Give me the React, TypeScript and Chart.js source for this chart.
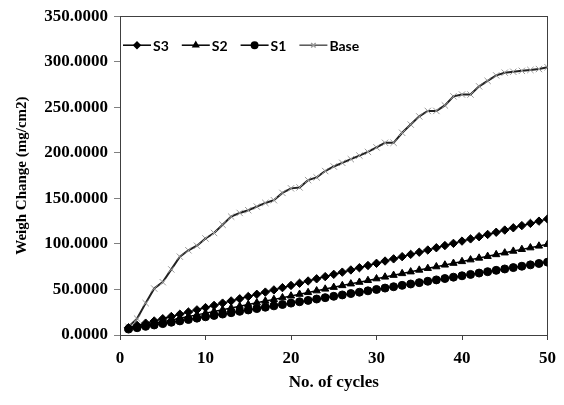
import React, { useEffect, useRef } from "react";
import { Chart, registerables } from "chart.js";
import { drawPoint } from "chart.js/helpers";

Chart.register(...registerables);

const cycles = [
  1, 2, 3, 4, 5, 6, 7, 8, 9, 10, 11, 12, 13, 14, 15, 16, 17, 18, 19, 20, 21, 22, 23, 24, 25,
  26, 27, 28, 29, 30, 31, 32, 33, 34, 35, 36, 37, 38, 39, 40, 41, 42, 43, 44, 45, 46, 47, 48, 49, 50,
];

const s3Values = [
  8.0, 10.5, 13.0, 15.4, 17.9, 20.3, 22.8, 25.2, 27.6, 30.1, 32.5, 35.0, 37.4, 39.8, 42.2, 44.7, 47.1,
  49.5, 52.0, 54.4, 56.8, 59.3, 61.7, 64.1, 66.6, 69.0, 71.4, 73.9, 76.3, 78.7, 81.2, 83.6, 86.0, 88.5,
  90.9, 93.3, 95.8, 98.2, 100.6, 103.1, 105.5, 107.9, 110.4, 112.8, 115.2, 117.7, 120.1, 122.5, 125.0, 127.4,
];

const s2Values = [
  7.0, 8.9, 10.8, 12.7, 14.6, 16.5, 18.4, 20.3, 22.1, 24.0, 25.9, 27.8, 29.7, 31.6, 33.5, 35.4, 37.3,
  39.1, 41.0, 42.9, 44.8, 46.7, 48.6, 50.5, 52.4, 54.3, 56.2, 58.0, 59.9, 61.8, 63.7, 65.6, 67.5, 69.4,
  71.3, 73.2, 75.0, 76.9, 78.8, 80.7, 82.6, 84.5, 86.4, 88.3, 90.2, 92.1, 94.0, 95.8, 97.7, 99.6,
];

const s1Values = [
  6.5, 8.0, 9.5, 11.0, 12.5, 14.0, 15.5, 17.0, 18.5, 20.0, 21.5, 23.0, 24.5, 26.0, 27.5, 29.0, 30.5,
  32.0, 33.5, 35.0, 36.5, 38.0, 39.5, 41.0, 42.5, 44.0, 45.5, 47.0, 48.5, 50.0, 51.5, 53.0, 54.5, 56.0,
  57.5, 59.0, 60.5, 62.0, 63.5, 65.0, 66.5, 68.0, 69.5, 71.0, 72.5, 74.0, 75.5, 77.0, 78.5, 80.0,
];

const baseValues = [
  9, 18, 35, 51, 58, 72, 86, 93, 98, 106, 112, 121, 130, 134, 137, 141, 145, 148, 156, 161, 162, 170,
  173, 180, 185, 189, 193, 197, 201, 206, 211, 211, 222, 231, 240, 246, 246, 252, 262, 264, 264, 273,
  279, 285, 288, 289, 290, 291, 292, 294,
];

const seriesLabels = ["S3", "S2", "S1", "Base"];
const xMin = 0;
const xMax = 50;
const xStep = 10;
const yMin = 0;
const yMax = 350;
const yStep = 50;
const xTitle = "No. of cycles";
const yTitle = "Weigh Change (mg/cm2)";

const toPoints = (vals: number[]) => cycles.map((c, i) => ({ x: c, y: vals[i] }));

const framePlugin = {
  id: "frame",
  beforeDatasetsDraw(chart: any) {
    const { ctx, chartArea } = chart;
    ctx.save();
    ctx.strokeStyle = "#404040";
    ctx.lineWidth = 1;
    ctx.strokeRect(
      Math.round(chartArea.left) + 0.5,
      Math.round(chartArea.top) + 0.5,
      Math.round(chartArea.right - chartArea.left) - 1,
      Math.round(chartArea.bottom - chartArea.top)
    );
    ctx.restore();
  },
};

const insideLegend = {
  id: "insideLegend",
  afterDatasetsDraw(chart: any) {
    const { ctx, chartArea } = chart;
    const y = chartArea.top + 29;
    let x = chartArea.left + 3;
    ctx.save();
    ctx.font = "bold 14px Lato";
    ctx.textBaseline = "middle";
    ctx.textAlign = "left";
    chart.data.datasets.forEach((ds: any) => {
      ctx.strokeStyle = ds.legendLineColor || ds.borderColor;
      ctx.lineWidth = 1.5;
      ctx.beginPath();
      ctx.moveTo(x, y);
      ctx.lineTo(x + 28, y);
      ctx.stroke();
      ctx.fillStyle = ds.pointBackgroundColor;
      ctx.strokeStyle = ds.pointBorderColor;
      drawPoint(
        ctx,
        { pointStyle: ds.pointStyle, radius: 3.2, borderWidth: ds.pointBorderWidth, rotation: 0 },
        x + 14,
        y
      );
      ctx.fillStyle = "#000000";
      ctx.fillText(ds.label, x + 30, y + 1);
      const w = ctx.measureText(ds.label).width;
      x = x + 30 + w + 13;
    });
    ctx.restore();
  },
};

export default function App() {
  const canvasRef = useRef<HTMLCanvasElement | null>(null);

  useEffect(() => {
    if (!canvasRef.current) return;
    const serif = "'Liberation Serif', 'Times New Roman', serif";
    const chart = new Chart(canvasRef.current, {
      type: "line",
      data: {
        datasets: [
          {
            label: seriesLabels[0],
            data: toPoints(s3Values),
            borderColor: "#000000",
            borderWidth: 1.5,
            pointStyle: "rectRot",
            pointRadius: 4.2,
            pointBackgroundColor: "#000000",
            pointBorderColor: "#000000",
            pointBorderWidth: 1,
          },
          {
            label: seriesLabels[1],
            data: toPoints(s2Values),
            borderColor: "#000000",
            borderWidth: 1.5,
            pointStyle: "triangle",
            pointRadius: 4.2,
            pointBackgroundColor: "#000000",
            pointBorderColor: "#000000",
            pointBorderWidth: 1,
          },
          {
            label: seriesLabels[2],
            data: toPoints(s1Values),
            borderColor: "#000000",
            borderWidth: 1.5,
            pointStyle: "circle",
            pointRadius: 4,
            pointBackgroundColor: "#000000",
            pointBorderColor: "#000000",
            pointBorderWidth: 1,
          },
          {
            label: seriesLabels[3],
            data: toPoints(baseValues),
            borderColor: "#222222",
            borderWidth: 2,
            pointStyle: "crossRot",
            pointRadius: 4.5,
            pointBackgroundColor: "#9a9a9a",
            pointBorderColor: "#9a9a9a",
            pointBorderWidth: 1,
            legendLineColor: "#555555",
          } as any,
        ],
      },
      plugins: [framePlugin, insideLegend],
      options: {
        responsive: false,
        animation: false,
        devicePixelRatio: 1,
        layout: { padding: { top: 12, right: 14, left: 0, bottom: 0 } },
        plugins: {
          legend: { display: false },
          tooltip: { enabled: false },
        },
        elements: { line: { tension: 0 } },
        scales: {
          x: {
            type: "linear",
            min: xMin,
            max: xMax,
            ticks: {
              stepSize: xStep,
              color: "#000000",
              font: { family: serif, size: 17, weight: "bold" },
              padding: 8,
              maxRotation: 0,
            },
            grid: {
              drawOnChartArea: false,
              drawTicks: true,
              tickLength: 5,
              color: "#404040",
            },
            border: { display: true, color: "#404040" },
            title: {
              display: true,
              text: xTitle,
              color: "#000000",
              font: { family: serif, size: 17, weight: "bold" },
              padding: { top: 0, bottom: 12 },
            },
            afterFit: (scale: any) => {
              scale.height = 70;
            },
          },
          y: {
            type: "linear",
            min: yMin,
            max: yMax,
            ticks: {
              stepSize: yStep,
              color: "#000000",
              font: { family: serif, size: 17, weight: "bold" },
              padding: 6,
              callback: (v: any) => Number(v).toFixed(4),
            },
            grid: {
              drawOnChartArea: false,
              drawTicks: true,
              tickLength: 6,
              color: "#808080",
            },
            border: { display: true, color: "#404040" },
            title: {
              display: true,
              text: yTitle,
              color: "#000000",
              font: { family: serif, size: 15, weight: "bold" },
              padding: { top: 13, bottom: 0 },
            },
            afterFit: (scale: any) => {
              scale.width = 120;
            },
          },
        },
      },
    });
    return () => chart.destroy();
  }, []);

  return (
    <div style={{ position: "absolute", left: 0, top: 0, width: 564, height: 405, background: "#ffffff" }}>
      <canvas ref={canvasRef} width={564} height={405} style={{ width: 564, height: 405 }} />
    </div>
  );
}
